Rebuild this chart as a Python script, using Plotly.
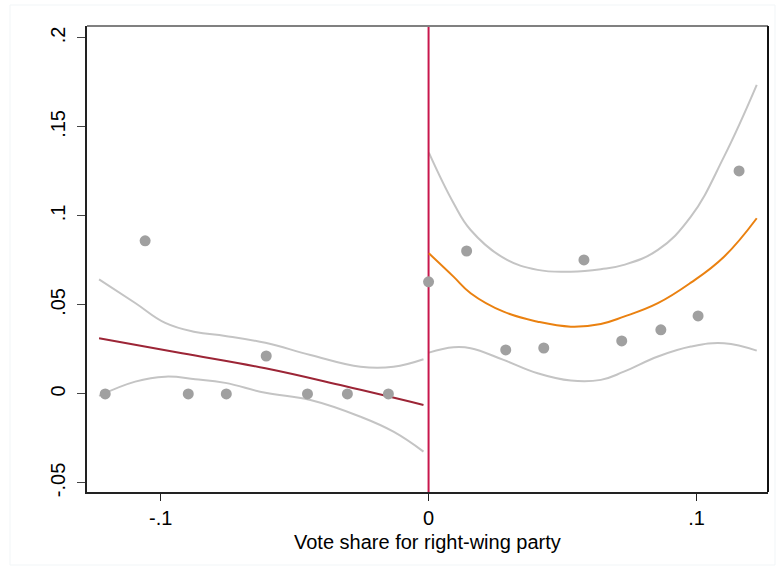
import plotly.graph_objects as go

# Binned scatter points
bin_x = [-0.1207, -0.1058, -0.0897, -0.0755, -0.0606, -0.0452, -0.0303, -0.0150,
         0.0000, 0.0142, 0.0288, 0.0430, 0.0580, 0.0721, 0.0867, 0.1006, 0.1159]
bin_y = [0.0, 0.086, 0.0, 0.0, 0.0213, 0.0, 0.0, 0.0,
         0.063, 0.0803, 0.0247, 0.0258, 0.0753, 0.0298, 0.036, 0.0438, 0.1253]

# Left of cutoff: fit and confidence band
left_x = [-0.1230, -0.1095, -0.0983, -0.0871, -0.0759, -0.0609, -0.0441, -0.0254, -0.0131, -0.0019]
left_upper = [0.0644, 0.0511, 0.0399, 0.0348, 0.0326, 0.0287, 0.0219, 0.0153, 0.0153, 0.0195]
left_lower = [-0.0011, 0.0069, 0.0097, 0.0083, 0.0062, 0.0006, -0.0034, -0.0128, -0.0212, -0.0324]
left_fit_x = [-0.1230, -0.0920, -0.0609, -0.0314, -0.0019]
left_fit_y = [0.0313, 0.0229, 0.0144, 0.0044, -0.0062]

# Right of cutoff: fit and confidence band
right_x = [0.0001, 0.0093, 0.0157, 0.0280, 0.0407, 0.0531, 0.0643, 0.0729, 0.0856, 0.0979, 0.1103, 0.1225]
right_upper = [0.1356, 0.1073, 0.0921, 0.0764, 0.0697, 0.0687, 0.0701, 0.0725, 0.0809, 0.0996, 0.1333, 0.1736]
right_fit = [0.0790, 0.0659, 0.0566, 0.0462, 0.0406, 0.0378, 0.0393, 0.0434, 0.0510, 0.0625, 0.0771, 0.0987]
right_lower = [0.0232, 0.0262, 0.0257, 0.0191, 0.0116, 0.0075, 0.0079, 0.0125, 0.0210, 0.0266, 0.0285, 0.0243]

x_ticks = [-0.1, 0.0, 0.1]
x_tick_labels = ["-.1", "0", ".1"]
y_ticks = [-0.05, 0.0, 0.05, 0.1, 0.15, 0.2]
y_tick_labels = ["-.05", "0", ".05", ".1", ".15", ".2"]
x_title = "Vote share for right-wing party"

X_RANGE = [-0.1275, 0.1267]
Y_RANGE = [-0.0551, 0.2067]

GRAY_CI = "#c4c4c4"
fig = go.Figure()

line_common = dict(shape="spline", smoothing=1.2)
fig.add_trace(go.Scatter(x=left_x, y=left_upper, mode="lines",
                         line=dict(color=GRAY_CI, width=2, **line_common), hoverinfo="skip"))
fig.add_trace(go.Scatter(x=left_x, y=left_lower, mode="lines",
                         line=dict(color=GRAY_CI, width=2, **line_common), hoverinfo="skip"))
fig.add_trace(go.Scatter(x=right_x, y=right_upper, mode="lines",
                         line=dict(color=GRAY_CI, width=2, **line_common), hoverinfo="skip"))
fig.add_trace(go.Scatter(x=right_x, y=right_lower, mode="lines",
                         line=dict(color=GRAY_CI, width=2, **line_common), hoverinfo="skip"))

# cutoff line
fig.add_trace(go.Scatter(x=[0, 0], y=Y_RANGE, mode="lines",
                         line=dict(color="#c8174c", width=2), hoverinfo="skip"))

fig.add_trace(go.Scatter(x=left_fit_x, y=left_fit_y, mode="lines",
                         line=dict(color="#9c2536", width=2, **line_common)))
fig.add_trace(go.Scatter(x=right_x, y=right_fit, mode="lines",
                         line=dict(color="#ea8110", width=2, **line_common)))

fig.add_trace(go.Scatter(x=bin_x, y=bin_y, mode="markers",
                         marker=dict(color="#a0a0a0", size=11, line=dict(width=0))))

FONT = "Liberation Sans, Arial, sans-serif"
TICKFONT = dict(family=FONT, size=20, color="#000000")
fig.update_layout(
    width=776, height=569,
    margin=dict(l=87, r=8, t=26, b=77, autoexpand=False),
    paper_bgcolor="white", plot_bgcolor="white",
    showlegend=False,
    font=dict(family=FONT, size=20, color="#000000"),
    xaxis=dict(range=X_RANGE, tickvals=x_ticks, ticktext=x_tick_labels, automargin=False,
               showgrid=False, zeroline=False, showline=True, linecolor="#222222", linewidth=2,
               ticks="outside", ticklen=7, tickcolor="#222222", tickwidth=1, tickfont=TICKFONT,
               ticklabelstandoff=0),
    yaxis=dict(range=Y_RANGE, tickvals=y_ticks, ticktext=y_tick_labels, automargin=False,
               showgrid=False, zeroline=False, showline=True, linecolor="#222222", linewidth=2,
               ticks="outside", ticklen=8, tickcolor="#444444", tickwidth=1, tickfont=TICKFONT,
               tickangle=-90, ticklabelstandoff=4),
    annotations=[
        dict(text=x_title, xref="paper", yref="paper", x=0.5, y=(492 - 542) / 466,
             xanchor="center", yanchor="middle", showarrow=False,
             font=dict(family=FONT, size=20, color="#000000")),
    ],
    shapes=[
        dict(type="line", xref="paper", yref="paper", x0=0, x1=1, y0=1, y1=1,
             line=dict(color="#808080", width=2)),
        dict(type="line", xref="paper", yref="paper", x0=1, x1=1, y0=0, y1=1,
             line=dict(color="#111111", width=2)),
        dict(type="rect", xref="paper", yref="paper",
             x0=(10 - 87) / 681, x1=(775 - 87) / 681,
             y0=-(565 - 492) / 466, y1=1 + (26 - 5) / 466,
             line=dict(color="#f1f5f7", width=1), layer="below"),
    ],
)

fig.write_html("out.html", config={"displayModeBar": False},
               post_script="document.body.style.margin='0';document.body.style.overflow='hidden';")
